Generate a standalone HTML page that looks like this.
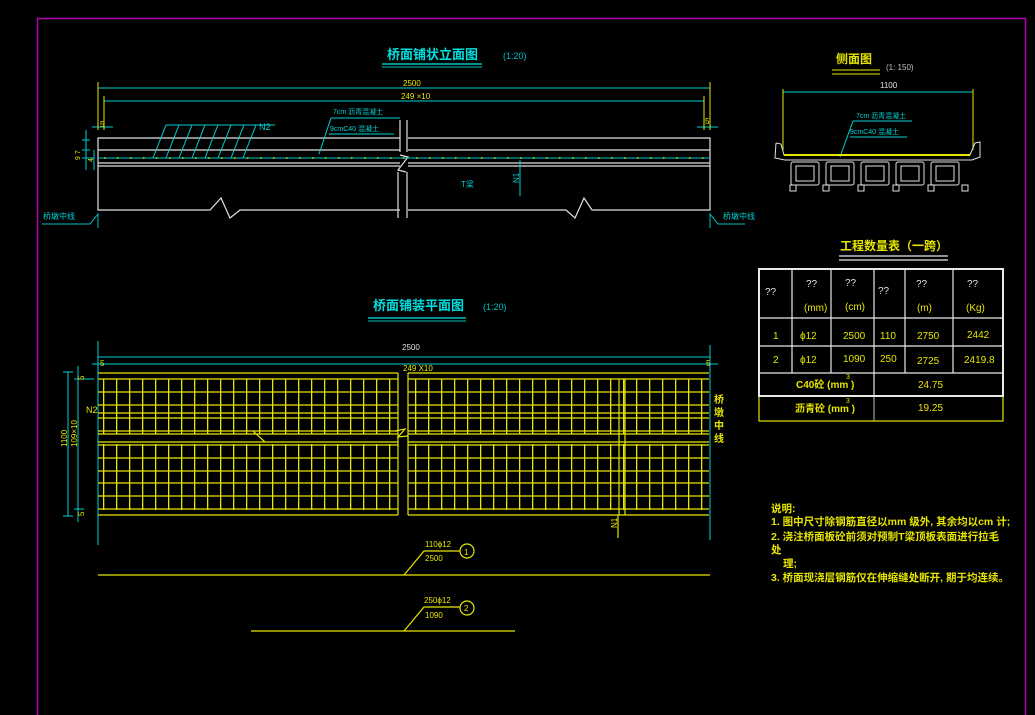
<!DOCTYPE html>
<html><head><meta charset="utf-8"><style>
html,body{margin:0;padding:0;background:#000;}
svg{display:block}
text{font-family:"Liberation Sans","Noto Sans CJK SC",sans-serif;}
</style></head><body>
<svg width="1035" height="715" viewBox="0 0 1035 715" xmlns="http://www.w3.org/2000/svg">
<defs>
<pattern id="vg" x="103" y="0" width="13" height="10" patternUnits="userSpaceOnUse">
<rect x="0" y="0" width="1.3" height="10" fill="#e6e600"/>
</pattern>
</defs>
<rect x="0" y="0" width="1035" height="715" fill="#000"/>
<rect x="37.5" y="18.5" width="988" height="710" fill="none" stroke="#b000b0" stroke-width="1.5"/>

<!-- ===== Elevation ===== -->
<g fill="#00e0e0" font-weight="bold">
<text x="387" y="59" font-size="13">桥面铺状立面图</text>
</g>
<text x="503" y="59" font-size="9" fill="#00c0c0">(1:20)</text>
<line x1="382" y1="64" x2="482" y2="64" stroke="#00c0c0" stroke-width="1.5"/>
<line x1="382" y1="67" x2="482" y2="67" stroke="#00c0c0" stroke-width="1"/>
<g stroke="#00d0d0" stroke-width="1">
<line x1="98" y1="88" x2="710" y2="88"/>
<line x1="104" y1="101" x2="704" y2="101"/>
<line x1="92" y1="127" x2="113" y2="127"/>
<line x1="697" y1="127" x2="718" y2="127"/>
</g>
<g stroke="#e6e600" stroke-width="1">
<line x1="98" y1="82" x2="98" y2="130"/>
<line x1="710" y1="82" x2="710" y2="130"/>
<line x1="104" y1="96" x2="104" y2="130"/>
<line x1="704" y1="96" x2="704" y2="130"/>
</g>
<text x="403" y="86" font-size="8" fill="#e6e600">2500</text>
<text x="401" y="99" font-size="8" fill="#e6e600">249 ×10</text>
<text x="100" y="127" font-size="8" fill="#e6e600">5</text>
<text x="705" y="124" font-size="8" fill="#e6e600">5</text>
<!-- deck -->
<g stroke="#e0e0e0" stroke-width="1.2" fill="none">
<polyline points="400,138 98,138 98,210 210,210 221,198 230,218 240,210 400,210"/>
<polyline points="408,138 710,138 710,210 592,210 584,198 575,218 566,210 408,210"/>
<line x1="98" y1="150" x2="400" y2="150"/><line x1="408" y1="150" x2="710" y2="150"/>
<line x1="98" y1="163" x2="400" y2="163"/><line x1="408" y1="163" x2="710" y2="163"/>
<line x1="98" y1="166" x2="400" y2="166"/><line x1="408" y1="166" x2="710" y2="166"/>
<line x1="400" y1="120" x2="400" y2="152"/><line x1="407" y1="120" x2="407" y2="152"/>
<polyline points="400,155 408,157 398,170 406,172"/>
<line x1="398" y1="172" x2="398" y2="218"/><line x1="407" y1="172" x2="407" y2="218"/>
</g>
<line x1="98" y1="158" x2="710" y2="158" stroke="#00c8c8" stroke-width="1"/>
<line x1="104" y1="158" x2="704" y2="158" stroke="#e6e600" stroke-width="1.5" stroke-dasharray="1.5 11.5"/>
<!-- N2 hatch -->
<g stroke="#00d0d0" stroke-width="1">
<line x1="166" y1="125" x2="275" y2="125"/>
<line x1="166" y1="125" x2="153" y2="158"/>
<line x1="179" y1="125" x2="166" y2="158"/>
<line x1="192" y1="125" x2="179" y2="158"/>
<line x1="205" y1="125" x2="192" y2="158"/>
<line x1="218" y1="125" x2="205" y2="158"/>
<line x1="231" y1="125" x2="218" y2="158"/>
<line x1="244" y1="125" x2="231" y2="158"/>
<line x1="256" y1="125" x2="243" y2="158"/>
<line x1="331" y1="118" x2="400" y2="118"/>
<line x1="329" y1="134" x2="394" y2="134"/>
<line x1="331" y1="118" x2="319" y2="154"/>
<line x1="520" y1="160" x2="520" y2="196"/>
<line x1="86" y1="130" x2="86" y2="170"/>
<line x1="82" y1="140" x2="90" y2="140"/>
<line x1="82" y1="150" x2="90" y2="150"/>
<line x1="82" y1="158" x2="94" y2="158"/>
<line x1="94" y1="150" x2="94" y2="170"/>
</g>
<text x="259" y="130" font-size="9" fill="#00d0d0">N2</text>
<text x="333" y="114" font-size="7" fill="#00d0d0">7cm 沥青混凝土</text>
<text x="330" y="131" font-size="7" fill="#00d0d0">9cmC40 混凝土</text>
<text x="461" y="187" font-size="8" fill="#00d0d0">T梁</text>
<text x="0" y="0" font-size="8" fill="#00d0d0" transform="translate(519,183) rotate(-90)">N1</text>
<text x="0" y="0" font-size="7" fill="#e6e600" transform="translate(80,160) rotate(-90)">9 7</text>
<text x="0" y="0" font-size="7" fill="#e6e600" transform="translate(93,162) rotate(-90)">4</text>
<text x="43" y="219" font-size="8" fill="#00d0d0">桥墩中线</text>
<polyline points="42,224 90,224 98,214 98,228" fill="none" stroke="#00c0c0"/>
<text x="723" y="219" font-size="8" fill="#00d0d0">桥墩中线</text>
<polyline points="745,224 718,224 710,214 710,228" fill="none" stroke="#00c0c0"/>

<!-- ===== Side view ===== -->
<text x="836" y="63" font-size="12" font-weight="bold" fill="#e6e600">侧面图</text>
<text x="886" y="70" font-size="8" fill="#c0c0c0">(1: 150)</text>
<line x1="832" y1="70" x2="880" y2="70" stroke="#e6e600"/>
<line x1="832" y1="74" x2="880" y2="74" stroke="#e6e600"/>
<text x="880" y="88" font-size="8" fill="#e0e0e0">1100</text>
<line x1="783" y1="92" x2="973" y2="92" stroke="#00d0d0"/>
<line x1="783" y1="89" x2="783" y2="150" stroke="#e6e600"/>
<line x1="973" y1="89" x2="973" y2="150" stroke="#e6e600"/>
<text x="856" y="118" font-size="7" fill="#00d0d0">7cm 沥青混凝土</text>
<text x="850" y="134" font-size="7" fill="#00d0d0">9cmC40 混凝土</text>
<line x1="853" y1="121" x2="912" y2="121" stroke="#00d0d0"/>
<line x1="850" y1="137" x2="907" y2="137" stroke="#00d0d0"/>
<line x1="853" y1="121" x2="840" y2="157" stroke="#00d0d0"/>
<g stroke="#e0e0e0" fill="none" stroke-width="1">
<polyline points="776,143 781,144 784,155 970,155 975,143 980,142 980,157 972,160 785,160 775,158 776,143"/>
<rect x="791" y="162" width="28" height="23" rx="2"/>
<rect x="826" y="162" width="28" height="23" rx="2"/>
<rect x="861" y="162" width="28" height="23" rx="2"/>
<rect x="896" y="162" width="28" height="23" rx="2"/>
<rect x="931" y="162" width="28" height="23" rx="2"/>
<rect x="796" y="166" width="18" height="15"/>
<rect x="831" y="166" width="18" height="15"/>
<rect x="866" y="166" width="18" height="15"/>
<rect x="901" y="166" width="18" height="15"/>
<rect x="936" y="166" width="18" height="15"/>
<rect x="790" y="185" width="6" height="6"/><rect x="823" y="185" width="6" height="6"/>
<rect x="858" y="185" width="6" height="6"/><rect x="893" y="185" width="6" height="6"/>
<rect x="928" y="185" width="6" height="6"/><rect x="962" y="185" width="6" height="6"/>
</g>
<line x1="784" y1="155" x2="970" y2="155" stroke="#e6e600" stroke-width="2"/>

<!-- ===== Table ===== -->
<text x="840" y="250" font-size="12" font-weight="bold" fill="#e6e600">工程数量表（一跨）</text>
<line x1="839" y1="256" x2="948" y2="256" stroke="#c0c0c0" stroke-width="1.5"/>
<line x1="839" y1="260" x2="948" y2="260" stroke="#c0c0c0" stroke-width="1.5"/>
<rect x="759" y="396" width="244" height="25" fill="none" stroke="#e6e600" stroke-width="1.2"/>
<line x1="874" y1="396" x2="874" y2="421" stroke="#c0c0c0"/>
<g stroke="#e8e8e8" fill="none" stroke-width="1.2">
<rect x="759" y="269" width="244" height="127" stroke-width="2"/>
<line x1="759" y1="318" x2="1003" y2="318"/>
<line x1="759" y1="346" x2="1003" y2="346"/>
<line x1="759" y1="373" x2="1003" y2="373"/>
<line x1="792" y1="269" x2="792" y2="373"/>
<line x1="831" y1="269" x2="831" y2="373"/>
<line x1="874" y1="269" x2="874" y2="396"/>
<line x1="905" y1="269" x2="905" y2="373"/>
<line x1="953" y1="269" x2="953" y2="373"/>
</g>
<g font-size="10" fill="#e6e600">
<text x="765" y="295" fill="#e0e0e0">??</text>
<text x="806" y="287" fill="#e0e0e0">??</text>
<text x="845" y="286" fill="#e0e0e0">??</text>
<text x="878" y="294" fill="#e0e0e0">??</text>
<text x="916" y="287" fill="#e0e0e0">??</text>
<text x="967" y="287" fill="#e0e0e0">??</text>
<text x="804" y="311">(mm)</text>
<text x="845" y="310">(cm)</text>
<text x="917" y="311">(m)</text>
<text x="966" y="311">(Kg)</text>
<text x="773" y="339">1</text>
<text x="800" y="339">ϕ12</text>
<text x="843" y="339">2500</text>
<text x="880" y="339">110</text>
<text x="917" y="339">2750</text>
<text x="967" y="338">2442</text>
<text x="773" y="363">2</text>
<text x="800" y="363">ϕ12</text>
<text x="843" y="362">1090</text>
<text x="880" y="362">250</text>
<text x="917" y="364">2725</text>
<text x="964" y="363">2419.8</text>
<text x="796" y="388" font-weight="bold">C40砼 (mm  )</text>
<text x="918" y="388">24.75</text>
<text x="795" y="412" font-weight="bold">沥青砼 (mm  )</text>
<text x="918" y="411">19.25</text>
<text x="846" y="379" font-size="7">3</text>
<text x="846" y="403" font-size="7">3</text>
</g>

<!-- ===== Plan ===== -->
<text x="373" y="310" font-size="13" font-weight="bold" fill="#00e0e0">桥面铺装平面图</text>
<text x="483" y="310" font-size="9" fill="#00c0c0">(1:20)</text>
<line x1="368" y1="318" x2="466" y2="318" stroke="#00c0c0" stroke-width="1.5"/>
<line x1="368" y1="321" x2="466" y2="321" stroke="#00c0c0"/>
<g stroke="#00d0d0">
<line x1="98" y1="357" x2="710" y2="357"/>
<line x1="98" y1="364" x2="710" y2="364"/>
<line x1="98" y1="341" x2="98" y2="545"/>
<line x1="710" y1="345" x2="710" y2="540"/>
<line x1="92" y1="364" x2="112" y2="364"/>
<line x1="700" y1="364" x2="718" y2="364"/>
<line x1="68" y1="372" x2="68" y2="516"/>
<line x1="63" y1="372" x2="73" y2="372"/>
<line x1="63" y1="516" x2="73" y2="516"/>
<line x1="78" y1="366" x2="78" y2="522"/>
<line x1="74" y1="379" x2="94" y2="379"/>
<line x1="74" y1="509" x2="84" y2="509"/>
</g>
<text x="402" y="350" font-size="8" fill="#e0e0e0">2500</text>
<text x="403" y="371" font-size="8" fill="#e6e600">249 X10</text>
<text x="100" y="366" font-size="8" fill="#e6e600">5</text>
<text x="706" y="366" font-size="8" fill="#e6e600">5</text>
<text x="0" y="0" font-size="8" fill="#e6e600" transform="translate(67,447) rotate(-90)">1100</text>
<text x="0" y="0" font-size="8" fill="#e6e600" transform="translate(77,447) rotate(-90)">109×10</text>
<text x="0" y="0" font-size="8" fill="#e6e600" transform="translate(84,380) rotate(-90)">5</text>
<text x="0" y="0" font-size="8" fill="#e6e600" transform="translate(84,516) rotate(-90)">5</text>
<text x="86" y="413" font-size="9" fill="#e6e600">N2</text>
<!-- grid -->
<rect x="98" y="379" width="300" height="55" fill="url(#vg)"/>
<rect x="408" y="379" width="301" height="55" fill="url(#vg)"/>
<rect x="98" y="444" width="300" height="66" fill="url(#vg)"/>
<rect x="408" y="444" width="301" height="66" fill="url(#vg)"/>
<g stroke="#e6e600" stroke-width="1.2">
<line x1="98" y1="373" x2="398" y2="373"/><line x1="408" y1="373" x2="709" y2="373"/>
<line x1="98" y1="379" x2="398" y2="379"/><line x1="408" y1="379" x2="709" y2="379"/>
<line x1="98" y1="392" x2="398" y2="392"/><line x1="408" y1="392" x2="709" y2="392"/>
<line x1="98" y1="405" x2="398" y2="405"/><line x1="408" y1="405" x2="709" y2="405"/>
<line x1="98" y1="413" x2="398" y2="413"/><line x1="408" y1="413" x2="709" y2="413"/>
<line x1="98" y1="418" x2="398" y2="418"/><line x1="408" y1="418" x2="709" y2="418"/>
<line x1="98" y1="431" x2="398" y2="431"/><line x1="408" y1="431" x2="709" y2="431"/>
<line x1="98" y1="434" x2="398" y2="434"/><line x1="408" y1="434" x2="709" y2="434"/>
<line x1="98" y1="442" x2="398" y2="442"/><line x1="408" y1="442" x2="709" y2="442"/>
<line x1="98" y1="445" x2="398" y2="445"/><line x1="408" y1="445" x2="709" y2="445"/>
<line x1="98" y1="458" x2="398" y2="458"/><line x1="408" y1="458" x2="709" y2="458"/>
<line x1="98" y1="471" x2="398" y2="471"/><line x1="408" y1="471" x2="709" y2="471"/>
<line x1="98" y1="483" x2="398" y2="483"/><line x1="408" y1="483" x2="709" y2="483"/>
<line x1="98" y1="496" x2="398" y2="496"/><line x1="408" y1="496" x2="709" y2="496"/>
<line x1="98" y1="509" x2="398" y2="509"/><line x1="408" y1="509" x2="709" y2="509"/>
<line x1="98" y1="515" x2="398" y2="515"/><line x1="408" y1="515" x2="709" y2="515"/>
<line x1="398" y1="373" x2="398" y2="515"/>
<line x1="408" y1="373" x2="408" y2="515"/>
<line x1="619" y1="379" x2="619" y2="515"/>
<line x1="625" y1="379" x2="625" y2="515"/>
<line x1="618" y1="515" x2="618" y2="538"/>
<line x1="253" y1="431" x2="265" y2="442"/>
<polyline points="395,431 405,429 398,437 408,436" fill="none"/>
</g>
<text x="0" y="0" font-size="8" fill="#e6e600" transform="translate(617,528) rotate(-90)">N1</text>
<g font-size="10" font-weight="bold" fill="#e6e600">
<text x="714" y="403">桥</text><text x="714" y="416">墩</text><text x="714" y="429">中</text><text x="714" y="442">线</text>
</g>
<!-- bars -->
<g stroke="#e6e600" fill="none" stroke-width="1.2">
<line x1="98" y1="575" x2="710" y2="575"/>
<polyline points="404,575 424,551 460,551"/>
<circle cx="467" cy="551" r="7"/>
<line x1="251" y1="631" x2="515" y2="631"/>
<polyline points="404,631 424,607 460,607"/>
<circle cx="467" cy="608" r="7"/>
</g>
<g font-size="8" fill="#e6e600">
<text x="425" y="547">110ϕ12</text><text x="425" y="561">2500</text>
<text x="464" y="555">1</text>
<text x="424" y="603">250ϕ12</text><text x="425" y="618">1090</text>
<text x="464" y="611">2</text>
</g>
<!-- notes -->
<g font-size="10.5" font-weight="bold" fill="#e6e600">
<text x="771" y="512">说明:</text>
<text x="771" y="525">1. 图中尺寸除钢筋直径以mm 级外, 其余均以cm 计;</text>
<text x="771" y="540">2. 浇注桥面板砼前须对预制T梁顶板表面进行拉毛</text>
<text x="771" y="553">处</text>
<text x="783" y="567">理;</text>
<text x="771" y="581">3. 桥面现浇层钢筋仅在伸缩缝处断开, 期于均连续。</text>
</g>
</svg>
</body></html>
